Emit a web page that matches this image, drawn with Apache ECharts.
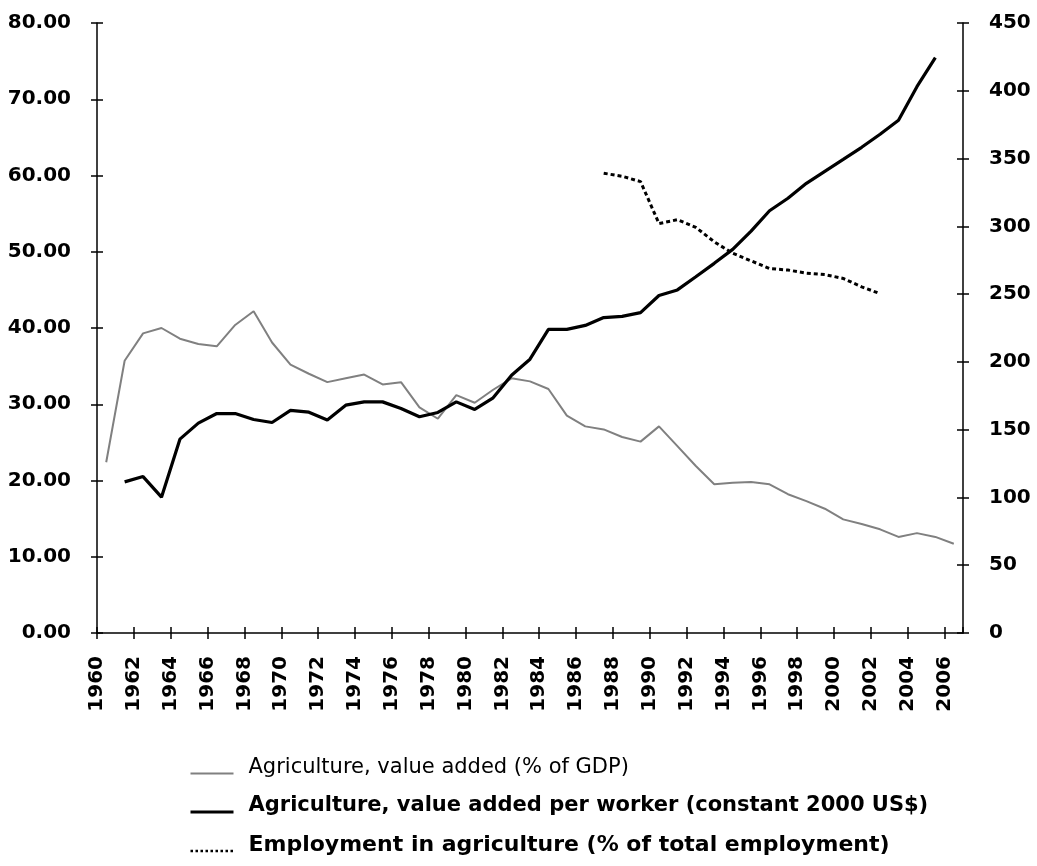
<!DOCTYPE html>
<html>
<head>
<meta charset="utf-8">
<script src="https://cdn.jsdelivr.net/npm/echarts@6/dist/echarts.min.js"></script>
<style>
html,body{margin:0;padding:0;background:#fff;}
#chart{width:1037px;height:866px;}
</style>
</head>
<body>
<div id="chart"></div>
<script>
const years = ['1960','1961','1962','1963','1964','1965','1966','1967','1968','1969',
  '1970','1971','1972','1973','1974','1975','1976','1977','1978','1979',
  '1980','1981','1982','1983','1984','1985','1986','1987','1988','1989',
  '1990','1991','1992','1993','1994','1995','1996','1997','1998','1999',
  '2000','2001','2002','2003','2004','2005','2006'];

const seriesNames = [
  'Agriculture, value added (% of GDP)',
  'Agriculture, value added per worker (constant 2000 US$)',
  'Employment in agriculture (% of total employment)'
];

// left axis (%)
const valueAddedPctGDP = [22.4, 35.7, 39.3, 40.0, 38.6, 37.9, 37.6, 40.4, 42.2, 38.1,
  35.2, 34.0, 32.9, 33.4, 33.9, 32.6, 32.9, 29.6, 28.1, 31.2,
  30.2, 31.9, 33.4, 33.0, 32.0, 28.5, 27.1, 26.7, 25.7, 25.1,
  27.1, 24.5, 21.9, 19.5, 19.7, 19.8, 19.5, 18.2, 17.3, 16.3,
  14.9, 14.3, 13.6, 12.6, 13.1, 12.6, 11.7];

// right axis (constant 2000 US$)
const valueAddedPerWorker = [null, 111.5, 115.4, 100.2, 143.0, 154.8, 161.9, 161.9, 157.5, 155.3,
  164.2, 162.9, 157.2, 168.1, 170.5, 170.5, 165.6, 159.5, 162.7, 170.5,
  164.9, 173.5, 190.2, 202.0, 224.0, 224.0, 226.9, 232.7, 233.6, 236.3,
  249.0, 253.1, 262.8, 272.7, 283.0, 296.5, 311.5, 320.7, 331.7, 340.6,
  349.4, 358.3, 367.9, 378.2, 403.0, 424.4, null];

// left axis (%)
const employmentPct = [null, null, null, null, null, null, null, null, null, null,
  null, null, null, null, null, null, null, null, null, null,
  null, null, null, null, null, null, null, 60.3, 59.9, 59.2,
  53.7, 54.2, 53.2, 51.3, 49.8, 48.8, 47.8, 47.6, 47.2, 47.0,
  46.5, 45.4, 44.5, null, null, null, null];

const leftAxis = {min: 0, max: 80, interval: 10};
const rightAxis = {min: 0, max: 450, interval: 50};
const yearAxis = {min: 1960, max: 2007, interval: 2};

const chart = echarts.init(document.getElementById('chart'), null, {renderer: 'canvas'});

const axisFont = {fontFamily: 'DejaVu Sans', fontWeight: 'bold', fontSize: 20, color: '#000'};
const lineSt = {color: '#000', width: 1.5};

const option = {
  animation: false,
  backgroundColor: '#fff',
  grid: {left: 97, right: 74, top: 23, bottom: 233, containLabel: false},
  xAxis: [
    {type: 'category', data: years, boundaryGap: true, position: 'bottom', show: false},
    {type: 'value', position: 'bottom', min: yearAxis.min, max: yearAxis.max, interval: yearAxis.interval,
      axisLine: {show: true, onZero: false, lineStyle: lineSt},
      axisTick: {show: true, length: 6, lineStyle: lineSt},
      splitLine: {show: false},
      axisLabel: Object.assign({rotate: 90, margin: 23, showMaxLabel: false,
        formatter: v => (v % 2 === 0 && v <= 2006) ? String(v) : ''}, axisFont)},
    {type: 'value', position: 'bottom', min: yearAxis.min, max: yearAxis.max, interval: yearAxis.interval,
      axisLine: {show: false, onZero: false},
      axisTick: {show: true, inside: true, length: 6, lineStyle: lineSt},
      splitLine: {show: false}, axisLabel: {show: false}}
  ],
  yAxis: [
    {type: 'value', position: 'left', min: leftAxis.min, max: leftAxis.max, interval: leftAxis.interval,
      axisLine: {show: true, onZero: false, lineStyle: lineSt},
      axisTick: {show: true, length: 6, lineStyle: lineSt},
      splitLine: {show: false},
      axisLabel: Object.assign({margin: 26, formatter: v => v.toFixed(2)}, axisFont)},
    {type: 'value', position: 'right', min: rightAxis.min, max: rightAxis.max, interval: rightAxis.interval,
      axisLine: {show: true, onZero: false, lineStyle: lineSt},
      axisTick: {show: true, length: 6, lineStyle: lineSt},
      splitLine: {show: false},
      axisLabel: Object.assign({margin: 26}, axisFont)},
    {type: 'value', position: 'left', min: leftAxis.min, max: leftAxis.max, interval: leftAxis.interval,
      axisLine: {show: false}, axisTick: {show: true, inside: true, length: 6, lineStyle: lineSt},
      splitLine: {show: false}, axisLabel: {show: false}},
    {type: 'value', position: 'right', min: rightAxis.min, max: rightAxis.max, interval: rightAxis.interval,
      axisLine: {show: false}, axisTick: {show: true, inside: true, length: 6, lineStyle: lineSt},
      splitLine: {show: false}, axisLabel: {show: false}}
  ],
  legend: {
    orient: 'vertical',
    left: 189,
    top: 757,
    padding: 0,
    itemWidth: 43,
    itemHeight: 2,
    itemGap: 17.5,
    selectedMode: false,
    itemStyle: {opacity: 0},
    data: [
      {name: seriesNames[0], itemStyle: {opacity: 0}, lineStyle: {width: 2, color: '#808080'}},
      {name: seriesNames[1], itemStyle: {opacity: 0}, lineStyle: {width: 3, color: '#000'}},
      {name: seriesNames[2], itemStyle: {opacity: 0}, lineStyle: {width: 2.5, color: '#000', type: [2.5, 2.5]}}
    ],
    formatter: name => name === seriesNames[0] ? '{n|' + name + '}'
      : (name === seriesNames[1] ? '{b|' + name + '}' : '{c|' + name + '}'),
    textStyle: {
      padding: [0, 0, 12, 10],
      rich: {
        n: {fontFamily: 'DejaVu Sans', fontSize: 21, color: '#000'},
        b: {fontFamily: 'DejaVu Sans', fontWeight: 'bold', fontSize: 21, color: '#000'},
        c: {fontFamily: 'DejaVu Sans', fontWeight: 'bold', fontSize: 22, color: '#000'}
      }
    }
  },
  series: [
    {name: seriesNames[0], type: 'line', xAxisIndex: 0, yAxisIndex: 0, data: valueAddedPctGDP,
      symbol: 'none', showSymbol: false, connectNulls: false,
      lineStyle: {color: '#808080', width: 2}, itemStyle: {color: '#808080'}, z: 3},
    {name: seriesNames[1], type: 'line', xAxisIndex: 0, yAxisIndex: 1, data: valueAddedPerWorker,
      symbol: 'none', showSymbol: false, connectNulls: false,
      lineStyle: {color: '#000', width: 3.2}, itemStyle: {color: '#000'}, z: 4},
    {name: seriesNames[2], type: 'line', xAxisIndex: 0, yAxisIndex: 0, data: employmentPct,
      symbol: 'none', showSymbol: false, connectNulls: false,
      lineStyle: {color: '#000', width: 3, type: [4, 3]}, itemStyle: {color: '#000'}, z: 4}
  ]
};
chart.setOption(option);
</script>
</body>
</html>
